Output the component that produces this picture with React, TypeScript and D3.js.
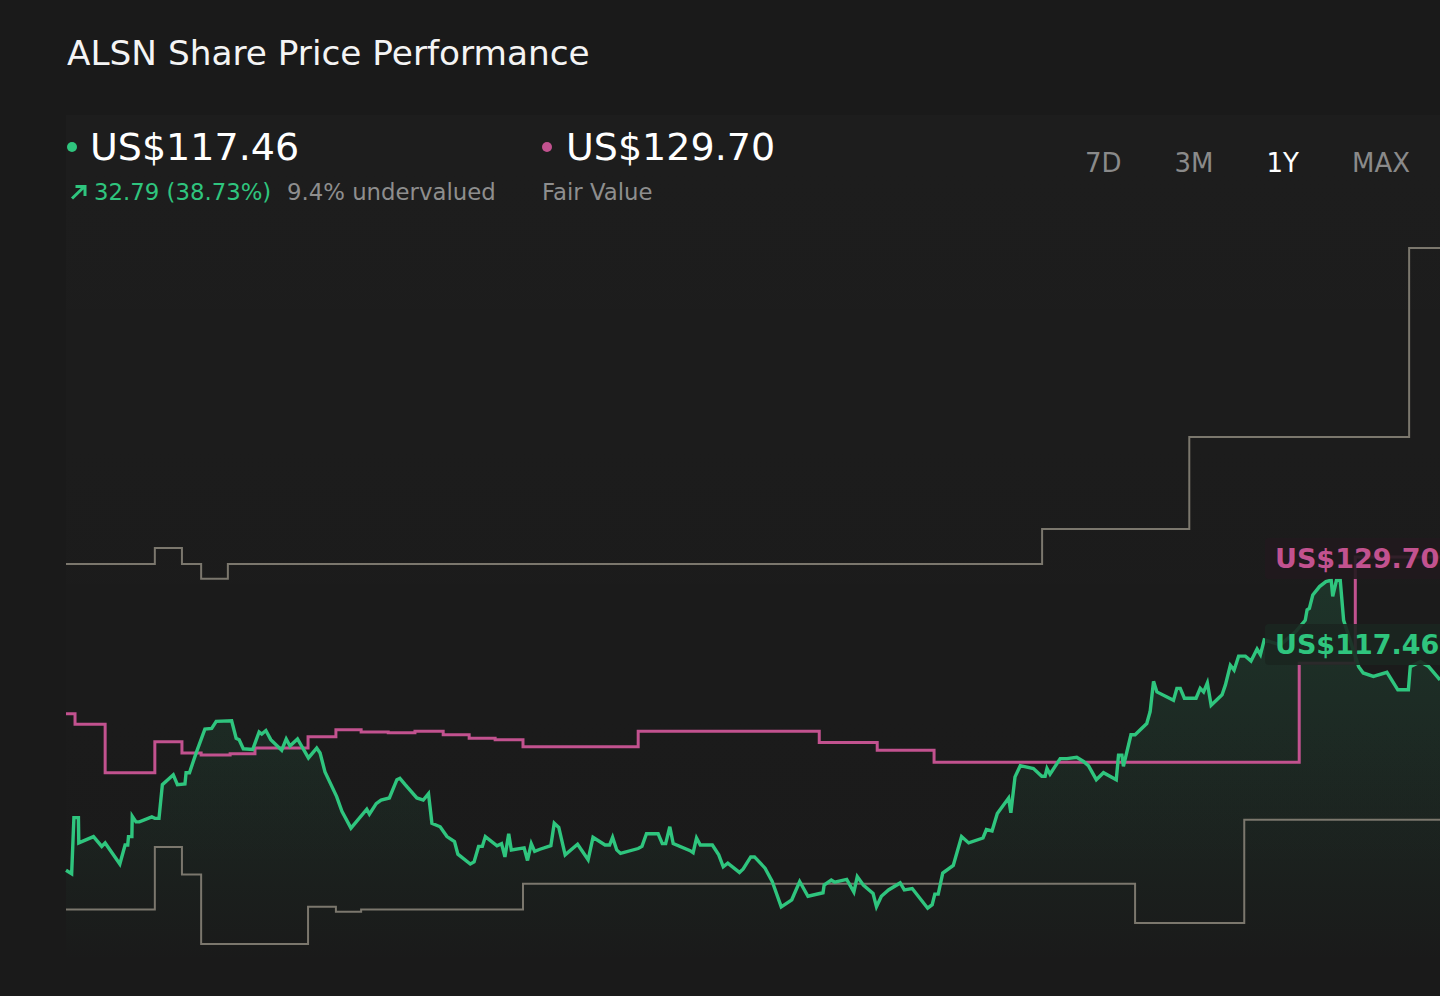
import { useRef, useEffect } from 'react'
import * as d3 from 'd3'

const width = 1440
const height = 996

const ticker = 'ALSN'
const currentPrice = 117.46
const fairValue = 129.7
const priceChange = 32.79
const priceChangePct = 38.73
const undervaluedPct = 9.4
const ranges = ['7D', '3M', '1Y', 'MAX']
const activeRange = '1Y'

// [day in the 1Y window, share price US$]
const price = [
  [0, 85.1], [1.5, 84.6], [2.1, 92.6], [3.3, 92.6], [3.4, 89.0], [7.3, 89.9], [9.5, 88.5], [10.4, 89.0],
  [14.3, 86.0], [15.7, 88.7], [16.4, 88.7], [16.6, 89.9], [17.5, 89.9], [17.6, 92.8], [18.6, 92.0], [19.5, 92.0],
  [22.8, 92.7], [23.6, 92.5], [24.7, 92.5], [25.6, 97.3], [28.5, 98.7], [29.6, 97.3], [31.6, 97.4], [31.9, 99.0],
  [32.8, 99.0], [34.7, 102.0], [36.9, 105.2], [38.7, 105.3], [39.9, 106.3], [44.0, 106.4], [45.2, 103.9], [46.0, 103.7],
  [47.1, 102.4], [49.6, 102.3], [51.3, 104.8], [52.0, 104.5], [53.1, 105.0], [54.4, 103.7], [57.3, 102.2], [58.5, 103.8],
  [59.5, 102.8], [61.5, 103.8], [64.4, 101.1], [66.6, 102.5], [67.5, 101.8], [68.8, 99.1], [71.9, 95.6], [73.3, 93.5],
  [75.7, 91.1], [79.9, 93.8], [80.6, 93.1], [82.4, 94.6], [83.7, 95.1], [85.9, 95.4], [87.9, 98.0], [88.7, 98.2],
  [90.1, 97.3], [93.2, 95.4], [94.9, 95.1], [96.3, 96.0], [97.2, 91.8], [99.4, 91.3], [101.2, 89.9], [103.2, 89.2],
  [104.1, 87.4], [107.4, 86.0], [108.4, 86.3], [109.6, 88.5], [110.6, 88.5], [111.4, 89.9], [114.5, 88.6], [115.7, 88.9],
  [116.6, 87.0], [117.6, 90.3], [118.3, 88.0], [121.7, 88.3], [122.6, 86.5], [123.6, 88.9], [124.5, 87.8], [125.9, 88.1],
  [128.8, 88.6], [129.7, 91.8], [130.9, 91.2], [132.6, 87.3], [135.9, 88.8], [138.7, 86.6], [140.0, 89.8], [143.2, 88.7],
  [144.4, 88.7], [145.2, 89.8], [146.3, 88.0], [147.3, 87.5], [152.0, 88.2], [153.0, 88.5], [154.2, 90.3], [157.3, 90.3],
  [158.4, 88.9], [159.3, 88.9], [160.4, 91.3], [161.3, 88.9], [165.8, 87.9], [166.6, 87.6], [167.5, 89.7], [168.5, 88.7],
  [171.7, 88.7], [173.4, 87.3], [174.6, 85.6], [175.8, 86.1], [178.9, 84.8], [179.9, 85.3], [181.9, 87.0], [182.9, 87.0],
  [185.7, 85.4], [187.6, 83.5], [190.0, 79.9], [192.8, 80.9], [194.9, 83.5], [197.1, 81.4], [201.1, 81.9], [201.4, 83.0],
  [203.3, 83.7], [204.2, 83.4], [207.4, 83.8], [209.3, 82.0], [210.2, 84.2], [211.8, 83.0], [214.4, 81.8], [215.3, 79.9],
  [216.6, 81.4], [218.5, 82.3], [221.6, 83.3], [222.7, 82.3], [224.8, 82.5], [228.9, 79.7], [230.1, 80.2], [230.8, 81.7],
  [231.7, 81.7], [232.9, 84.7], [235.7, 85.8], [237.9, 89.9], [239.8, 89.0], [243.6, 89.7], [244.5, 90.9], [246.0, 90.7],
  [247.4, 93.2], [250.4, 95.4], [251.0, 93.3], [252.1, 98.4], [253.5, 100.0], [257.0, 99.6], [259.2, 98.5], [260.1, 98.5],
  [260.6, 99.6], [261.4, 98.8], [264.1, 101.0], [265.9, 101.0], [268.5, 101.2], [270.3, 100.6], [271.6, 100.0], [273.7, 98.0],
  [275.6, 99.0], [279.0, 98.0], [279.6, 101.5], [280.5, 101.5], [280.9, 99.9], [282.9, 104.4], [284.0, 104.4], [287.1, 106.0],
  [288.0, 107.7], [288.9, 112.0], [289.8, 110.5], [294.2, 109.3], [295.1, 111.0], [296.0, 111.0], [297.1, 109.6], [300.2, 109.6],
  [301.3, 111.0], [302.2, 110.5], [303.2, 111.8], [304.2, 108.6], [307.1, 110.1], [308.0, 111.5], [309.3, 114.3], [310.3, 113.6],
  [311.5, 115.6], [313.3, 115.6], [314.8, 114.9], [316.4, 116.6], [317.3, 115.8], [318.3, 117.9], [322.6, 117.2], [326.5, 119.0],
  [329.2, 120.7], [329.7, 122.2], [330.3, 122.4], [331.2, 124.3], [333.0, 125.5], [334.7, 126.2], [336.1, 126.4], [336.5, 124.1],
  [337.5, 126.4], [338.5, 126.4], [339.4, 120.7], [343.4, 114.1], [344.6, 113.2], [347.3, 112.7], [350.9, 113.3], [353.8, 110.8],
  [356.6, 110.8], [357.1, 114.1], [359.8, 114.8], [362.0, 114.1], [365, 112.2],
]

// [day the estimate changes, value US$]
const fairValueSteps = [
  [0, 107.4], [2.4, 105.9], [10.4, 99.0], [23.6, 103.4], [30.8, 101.8], [35.9, 101.5], [43.6, 101.7], [50.2, 102.5],
  [64.3, 104.1], [71.7, 105.1], [78.4, 104.8], [85.6, 104.7], [92.7, 104.9], [100.2, 104.4], [107.1, 103.9], [114.0, 103.7],
  [121.4, 102.7], [152.0, 104.9], [200.1, 103.3], [215.5, 102.2], [230.6, 100.5], [327.6, 114.6], [342.5, 129.7], [365, 129.7],
]

const analystHigh = [
  [0, 128.7], [23.6, 131.0], [30.8, 128.7], [35.9, 126.6], [43.0, 128.7], [259.3, 133.7], [298.4, 146.8], [356.8, 173.7], [365, 173.7],
]

const analystLow = [
  [0, 79.5], [23.6, 88.4], [30.8, 84.5], [35.9, 74.6], [64.3, 79.9], [71.7, 79.2], [78.4, 79.5], [121.4, 83.2],
  [284.0, 77.6], [313.0, 92.3], [365, 92.3],
]

const bg = '#1a1a1a'
const green = '#2fc57e'
const pink = '#c2528f'
const grey = '#7b776d'
const font = '"DejaVu Sans", sans-serif'

const SharePriceChart = () => {
  const svgRef = useRef(null)

  useEffect(() => {
    const svg = d3.select(svgRef.current)
    svg.selectAll('*').remove()

    const x = d3.scaleLinear().domain([0, 365]).range([66, 1440])
    const y = d3.scaleLinear().domain([67.2, 177.7]).range([996, 220])

    const defs = svg.append('defs')
    const areaGrad = defs.append('linearGradient')
      .attr('id', 'areaGrad').attr('gradientUnits', 'userSpaceOnUse')
      .attr('x1', 0).attr('x2', 0).attr('y1', y(128)).attr('y2', y(72))
    areaGrad.append('stop').attr('offset', 0).attr('stop-color', green).attr('stop-opacity', 0.15)
    areaGrad.append('stop').attr('offset', 1).attr('stop-color', green).attr('stop-opacity', 0.0)

    const panelGrad = defs.append('linearGradient')
      .attr('id', 'panelGrad').attr('x1', 0).attr('x2', 0).attr('y1', 0).attr('y2', 1)
    panelGrad.append('stop').attr('offset', 0).attr('stop-color', '#ffffff').attr('stop-opacity', 0.014)
    panelGrad.append('stop').attr('offset', 1).attr('stop-color', '#ffffff').attr('stop-opacity', 0)

    svg.append('rect').attr('width', width).attr('height', height).attr('fill', bg)
    svg.append('rect')
      .attr('x', x(0)).attr('y', 115)
      .attr('width', width - x(0)).attr('height', height - 115)
      .attr('fill', 'url(#panelGrad)')

    // title + header
    svg.append('text')
      .attr('x', 67).attr('y', 65)
      .attr('font-family', font).attr('font-size', 34.3).attr('fill', '#f4f4f4')
      .text(`${ticker} Share Price Performance`)

    svg.append('circle').attr('cx', 72).attr('cy', 147).attr('r', 5).attr('fill', green)
    svg.append('text')
      .attr('x', 90).attr('y', 160)
      .attr('font-family', font).attr('font-size', 38).attr('fill', '#ffffff')
      .text(`US$${currentPrice.toFixed(2)}`)

    svg.append('path')
      .attr('d', 'M72,198.5 L84.5,186.5 M75.5,186.5 L85,186.5 L85,196')
      .attr('fill', 'none').attr('stroke', green).attr('stroke-width', 3)
    svg.append('text')
      .attr('x', 94).attr('y', 200)
      .attr('font-family', font).attr('font-size', 22.8).attr('fill', green)
      .text(`${priceChange.toFixed(2)} (${priceChangePct.toFixed(2)}%)`)
    svg.append('text')
      .attr('x', 287).attr('y', 200)
      .attr('font-family', font).attr('font-size', 22.8).attr('fill', '#8e8e8e')
      .text(`${undervaluedPct}% undervalued`)

    svg.append('circle').attr('cx', 547).attr('cy', 147).attr('r', 5).attr('fill', pink)
    svg.append('text')
      .attr('x', 566).attr('y', 160)
      .attr('font-family', font).attr('font-size', 38).attr('fill', '#ffffff')
      .text(`US$${fairValue.toFixed(2)}`)
    svg.append('text')
      .attr('x', 542).attr('y', 200)
      .attr('font-family', font).attr('font-size', 22.8).attr('fill', '#8e8e8e')
      .text('Fair Value')

    let cursor = 1085
    ranges.forEach(r => {
      const t = svg.append('text')
        .attr('x', cursor).attr('y', 172)
        .attr('font-family', font).attr('font-size', 26)
        .attr('fill', r === activeRange ? '#ffffff' : '#8a8a8a')
        .text(r)
      const node = t.node() as SVGTextElement
      cursor += node.getComputedTextLength() + 53
    })

    // series
    const area = d3.area()
      .x(d => x(d[0])).y0(height).y1(d => y(d[1]))
    svg.append('path').datum(price).attr('d', area).attr('fill', 'url(#areaGrad)')

    const stepLine = d3.line().x(d => x(d[0])).y(d => y(d[1])).curve(d3.curveStepAfter)
    ;[analystHigh, analystLow].forEach(s => {
      svg.append('path').datum(s).attr('d', stepLine)
        .attr('fill', 'none').attr('stroke', grey).attr('stroke-width', 2)
    })
    svg.append('path').datum(fairValueSteps).attr('d', stepLine)
      .attr('fill', 'none').attr('stroke', pink).attr('stroke-width', 3)

    const priceLine = d3.line().x(d => x(d[0])).y(d => y(d[1]))
    svg.append('path').datum(price).attr('d', priceLine)
      .attr('fill', 'none').attr('stroke', green).attr('stroke-width', 3.4)
      .attr('stroke-linejoin', 'miter')

    // value tags at the right edge
    const tags = [
      { v: fairValue, color: pink, box: '#211a1e' },
      { v: currentPrice, color: green, box: '#1b2620' },
    ]
    tags.forEach(t => {
      const cy = y(t.v) + 1.5
      svg.append('rect')
        .attr('x', 1265).attr('y', cy - 20.5)
        .attr('width', 200).attr('height', 41).attr('rx', 4)
        .attr('fill', t.box).attr('fill-opacity', 0.9)
      svg.append('text')
        .attr('x', 1275).attr('y', cy + 9.5)
        .attr('font-family', font).attr('font-size', 27).attr('font-weight', 'bold')
        .attr('fill', t.color)
        .text(`US$${t.v.toFixed(2)}`)
    })
  }, [])

  return (
    <svg
      ref={svgRef}
      width={width} height={height}
      style={{ position: 'absolute', top: 0, left: 0, display: 'block' }}
    />
  )
}

export default SharePriceChart
